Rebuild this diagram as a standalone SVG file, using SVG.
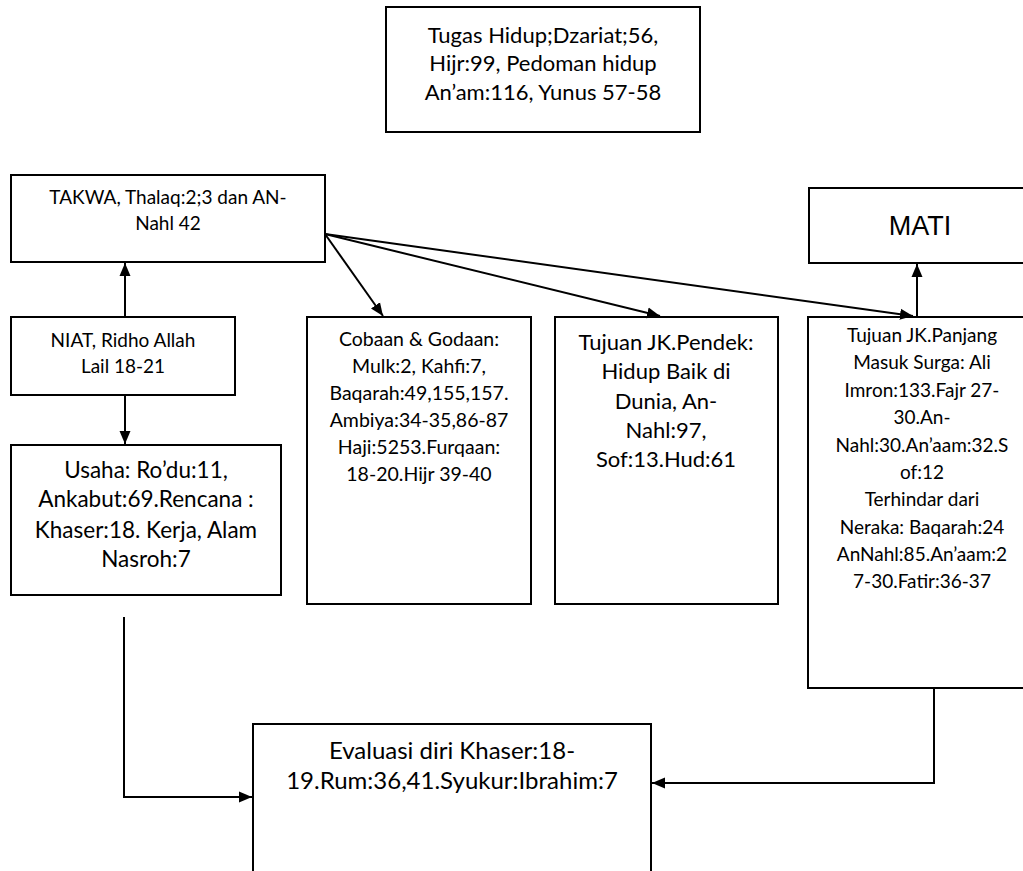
<svg xmlns="http://www.w3.org/2000/svg" width="1023" height="871" viewBox="0 0 1023 871">
<style>
.box{fill:#fff;stroke:#000;stroke-width:2}
.t{font-family:Lato,"Liberation Sans",sans-serif;fill:#000;text-anchor:middle}
.c{fill:none;stroke:#000;stroke-width:2}
</style>
<defs>
<marker id="ah" markerUnits="userSpaceOnUse" markerWidth="14" markerHeight="14" viewBox="0 0 14 14" refX="13" refY="7" orient="auto">
<path d="M0,1.5 L13,7 L0,12.5 Z" fill="#000"/>
</marker>
</defs>
<rect width="1023" height="871" fill="#fff"/>
<g id="tugas">
<rect class="box" x="386" y="7" width="314" height="125"/>
<text class="t" font-size="22" x="543"><tspan x="543" y="43">Tugas Hidup;Dzariat;56,</tspan><tspan x="543" y="71">Hijr:99, Pedoman hidup</tspan><tspan x="543" y="100">An’am:116, Yunus 57-58</tspan></text>
</g>
<g id="takwa">
<rect class="box" x="11" y="175" width="314" height="87"/>
<text class="t" font-size="19" x="168"><tspan x="168" y="204">TAKWA, Thalaq:2;3 dan AN-</tspan><tspan x="168" y="230">Nahl 42</tspan></text>
</g>
<g id="mati">
<rect class="box" x="809" y="188" width="230" height="75"/>
<text font-family="'Liberation Sans',Arial,sans-serif" font-size="27" text-anchor="middle" x="920" y="235">MATI</text>
</g>
<g id="niat">
<rect class="box" x="11" y="317" width="224" height="78"/>
<text class="t" font-size="19" x="123"><tspan x="123" y="347">NIAT, Ridho Allah</tspan><tspan x="123" y="373">Lail 18-21</tspan></text>
</g>
<g id="usaha">
<rect class="box" x="11" y="445" width="270" height="150"/>
<text class="t" font-size="22.5" x="146"><tspan x="146" y="478">Usaha: Ro’du:11,</tspan><tspan x="146" y="507">Ankabut:69.Rencana :</tspan><tspan x="146" y="538">Khaser:18. Kerja, Alam</tspan><tspan x="146" y="567">Nasroh:7</tspan></text>
</g>
<g id="cobaan">
<rect class="box" x="307" y="317" width="224" height="287"/>
<text class="t" font-size="19.5" x="419"><tspan x="419" y="346">Cobaan &amp; Godaan:</tspan><tspan x="419" y="373">Mulk:2, Kahfi:7,</tspan><tspan x="419" y="400">Baqarah:49,155,157.</tspan><tspan x="419" y="427">Ambiya:34-35,86-87</tspan><tspan x="419" y="454">Haji:5253.Furqaan:</tspan><tspan x="419" y="481">18-20.Hijr 39-40</tspan></text>
</g>
<g id="pendek">
<rect class="box" x="555" y="317" width="223" height="287"/>
<text class="t" font-size="22" x="666"><tspan x="666" y="350">Tujuan JK.Pendek:</tspan><tspan x="666" y="379">Hidup Baik di</tspan><tspan x="666" y="409">Dunia, An-</tspan><tspan x="666" y="438">Nahl:97,</tspan><tspan x="666" y="467">Sof:13.Hud:61</tspan></text>
</g>
<g id="panjang">
<rect class="box" x="808" y="317" width="228" height="371"/>
<text class="t" font-size="19" x="922"><tspan x="922" y="342">Tujuan JK.Panjang</tspan><tspan x="922" y="369">Masuk Surga: Ali</tspan><tspan x="922" y="397">Imron:133.Fajr 27-</tspan><tspan x="922" y="424">30.An-</tspan><tspan x="922" y="452">Nahl:30.An’aam:32.S</tspan><tspan x="922" y="479">of:12</tspan><tspan x="922" y="506">Terhindar dari</tspan><tspan x="922" y="534">Neraka: Baqarah:24</tspan><tspan x="922" y="561">AnNahl:85.An’aam:2</tspan><tspan x="922" y="588">7-30.Fatir:36-37</tspan></text>
</g>
<g id="evaluasi">
<rect class="box" x="253" y="724" width="398" height="160"/>
<text class="t" font-size="24" x="452"><tspan x="452" y="759">Evaluasi diri Khaser:18-</tspan><tspan x="452" y="789">19.Rum:36,41.Syukur:Ibrahim:7</tspan></text>
</g>
<g id="connectors">
<line class="c" x1="125" y1="317" x2="125" y2="263" marker-end="url(#ah)"/>
<line class="c" x1="125" y1="395" x2="125" y2="444" marker-end="url(#ah)"/>
<line class="c" x1="325" y1="234" x2="383" y2="316" marker-end="url(#ah)"/>
<line class="c" x1="325" y1="234" x2="660" y2="316" marker-end="url(#ah)"/>
<line class="c" x1="325" y1="234" x2="913" y2="316" marker-end="url(#ah)"/>
<line class="c" x1="917" y1="317" x2="917" y2="264" marker-end="url(#ah)"/>
<polyline class="c" points="124,617 124,797 252,797" marker-end="url(#ah)"/>
<polyline class="c" points="934,688 934,783 652,783" marker-end="url(#ah)"/>
</g>
</svg>
